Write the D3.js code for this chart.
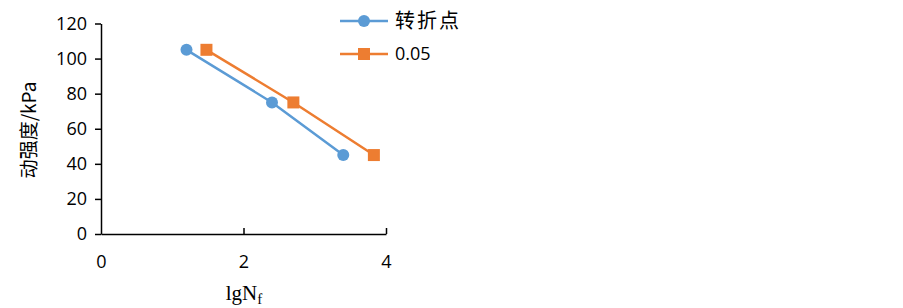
<!DOCTYPE html>
<html>
<head>
<meta charset="utf-8">
<script src="https://cdn.jsdelivr.net/npm/d3@7"></script>
<style>
  body { margin: 0; background: #fff; }
  svg text { fill: #000; }
</style>
</head>
<body>
<svg id="chart" width="903" height="308"></svg>
<script>
// data
var seriesNames = ["转折点", "0.05"];
var turnX = [1.2, 2.4, 3.4];
var turnY = [105, 75, 45];
var strainX = [1.48, 2.7, 3.83];
var strainY = [105, 75, 45];
var xTicks = [0, 2, 4];
var yTicks = [0, 20, 40, 60, 80, 100, 120];

var colors = ["#5B9BD5", "#ED7D31"];
var font = "'Open Sans', 'Liberation Sans', Arial, sans-serif";

var svg = d3.select("#chart");
var x = d3.scaleLinear().domain([0, 4]).range([101, 386]);
var y = d3.scaleLinear().domain([0, 120]).range([234, 23.5]);

// y axis, ticks outward
var yAxis = svg.append("g").attr("transform", "translate(" + x(0) + ",0)")
	.call(d3.axisLeft(y).tickValues(yTicks).tickSize(6).tickPadding(8).tickSizeOuter(0));
// x axis, ticks inward
var xAxis = svg.append("g").attr("transform", "translate(0," + y(0) + ")")
	.call(d3.axisTop(x).tickValues(xTicks).tickFormat(d3.format("d")).tickSize(6).tickSizeOuter(0));
xAxis.selectAll("text").attr("y", 28).attr("dy", "0.35em");

[yAxis, xAxis].forEach(function (a) {
	a.select(".domain").attr("stroke", "#000").attr("stroke-width", 1.5);
	a.selectAll(".tick line").attr("stroke", "#000").attr("stroke-width", 1.5);
	a.selectAll("text").attr("font-family", font).attr("font-size", 18).attr("fill", "#000");
});
xAxis.selectAll(".tick").filter(function (d) { return d === 0; }).select("line").remove();

var series = [
	{ xs: turnX, ys: turnY, shape: "circle" },
	{ xs: strainX, ys: strainY, shape: "square" }
];

var line = d3.line().x(function (d) { return x(d[0]); }).y(function (d) { return y(d[1]); });

function marker(g, shape, cx, cy, color) {
	if (shape === "circle") {
		g.append("circle").attr("cx", cx).attr("cy", cy).attr("r", 6).attr("fill", color);
	} else {
		g.append("rect").attr("x", cx - 6).attr("y", cy - 6)
			.attr("width", 12).attr("height", 12).attr("fill", color);
	}
}

series.forEach(function (s, i) {
	var pts = s.xs.map(function (v, j) { return [v, s.ys[j]]; });
	svg.append("path").datum(pts).attr("d", line)
		.attr("fill", "none").attr("stroke", colors[i]).attr("stroke-width", 2.5);
	var g = svg.append("g");
	pts.forEach(function (p) { marker(g, s.shape, x(p[0]), y(p[1]), colors[i]); });
});

// legend
seriesNames.forEach(function (name, i) {
	var ly = 21 + i * 33;
	var g = svg.append("g");
	g.append("line").attr("x1", 340).attr("x2", 388).attr("y1", ly).attr("y2", ly)
		.attr("stroke", colors[i]).attr("stroke-width", 2.5);
	marker(g, series[i].shape, 364, ly, colors[i]);
	g.append("text").attr("x", 395).attr("y", ly).attr("dy", "0.35em")
		.attr("font-family", i === 0 ? "'Noto Sans CJK SC', sans-serif" : font)
		.attr("font-size", i === 0 ? 20 : 18).attr("letter-spacing", i === 0 ? 2 : 0).text(name);
});

// axis titles
svg.append("text")
	.attr("transform", "translate(36,130) rotate(-90)")
	.attr("text-anchor", "middle")
	.attr("font-family", "'Noto Sans CJK SC', sans-serif")
	.attr("font-size", 19)
	.text("动强度/kPa");

var xt = svg.append("text").attr("x", 244).attr("y", 300).attr("text-anchor", "middle")
	.attr("font-family", "'Liberation Serif', 'Times New Roman', serif").attr("font-size", 21);
xt.append("tspan").text("lgN");
xt.append("tspan").attr("font-size", 15).attr("dy", 4).text("f");
</script>
</body>
</html>
